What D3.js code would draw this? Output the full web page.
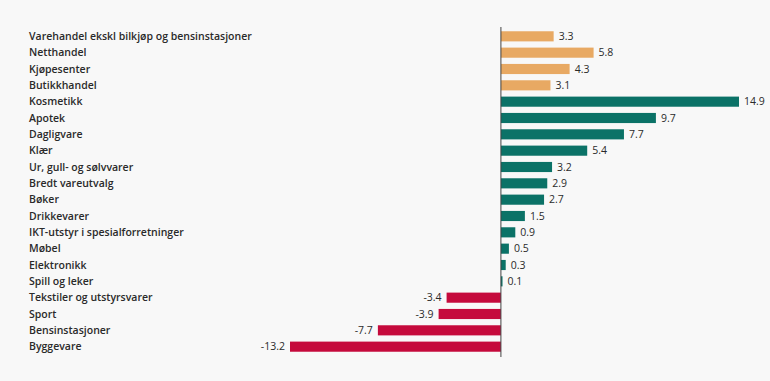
<!DOCTYPE html>
<html lang="no">
<head>
    <meta charset="utf-8">
    <title>Varehandel</title>
    <script src="https://d3js.org/d3.v7.min.js"></script>
    <style>
        html, body {
            margin: 0;
            padding: 0;
            background: #f8f8f8;
        }
        text {
            font-family: "Open Sans", "Noto Sans", sans-serif;
            fill: #2a2a2a;
        }
    </style>
</head>
<body>
    <div id="chart"></div>
    <script>
        // categories, top to bottom
        var categories = [
            "Varehandel ekskl bilkjøp og bensinstasjoner", "Netthandel", "Kjøpesenter", "Butikkhandel",
            "Kosmetikk", "Apotek", "Dagligvare", "Klær", "Ur, gull- og sølvvarer", "Bredt vareutvalg",
            "Bøker", "Drikkevarer", "IKT-utstyr i spesialforretninger", "Møbel", "Elektronikk",
            "Spill og leker", "Tekstiler og utstyrsvarer", "Sport", "Bensinstasjoner", "Byggevare"
        ];
        var values = [3.3, 5.8, 4.3, 3.1, 14.9, 9.7, 7.7, 5.4, 3.2, 2.9, 2.7, 1.5, 0.9, 0.5, 0.3, 0.1, -3.4, -3.9, -7.7, -13.2];
        // group: 0 = aggregate, 1 = growth, 2 = decline
        var groups = [0, 0, 0, 0, 1, 1, 1, 1, 1, 1, 1, 1, 1, 1, 1, 1, 2, 2, 2, 2];
        var groupColors = ["#e8a963", "#0b7267", "#c50a3c"];

        var width = 770, height = 381;

        var svg = d3.select("#chart").append("svg")
            .attr("width", width)
            .attr("height", height);

        var x = d3.scaleLinear()
            .domain([-13.2, 14.9])
            .range([290, 739]);

        var y = d3.scaleBand()
            .domain(categories)
            .range([28, 355])
            .paddingInner(0.38)
            .paddingOuter(0.2);

        // category labels
        svg.append("g")
            .selectAll("text")
            .data(categories)
            .enter().append("text")
            .attr("x", 29)
            .attr("y", function(d) { return y(d) + y.bandwidth() / 2; })
            .attr("dy", "0.35em")
            .attr("font-size", "10.5px")
            .attr("font-weight", 600)
            .text(function(d) { return d; });

        // bars
        svg.append("g")
            .selectAll("rect")
            .data(values)
            .enter().append("rect")
            .attr("x", function(d) { return x(Math.min(0, d)); })
            .attr("y", function(d, i) { return y(categories[i]); })
            .attr("width", function(d) { return Math.abs(x(d) - x(0)); })
            .attr("height", y.bandwidth())
            .attr("fill", function(d, i) { return groupColors[groups[i]]; });

        // value labels
        svg.append("g")
            .selectAll("text")
            .data(values)
            .enter().append("text")
            .attr("x", function(d) { return d < 0 ? x(d) - 5 : x(d) + 5; })
            .attr("y", function(d, i) { return y(categories[i]) + y.bandwidth() / 2; })
            .attr("dy", "0.35em")
            .attr("text-anchor", function(d) { return d < 0 ? "end" : "start"; })
            .attr("font-size", "10.5px")
            .text(function(d) { return d.toFixed(1); });

        // zero line
        svg.append("line")
            .attr("x1", x(0)).attr("x2", x(0))
            .attr("y1", 27).attr("y2", 357)
            .attr("stroke", "#444")
            .attr("stroke-width", 1);
    </script>
</body>
</html>
